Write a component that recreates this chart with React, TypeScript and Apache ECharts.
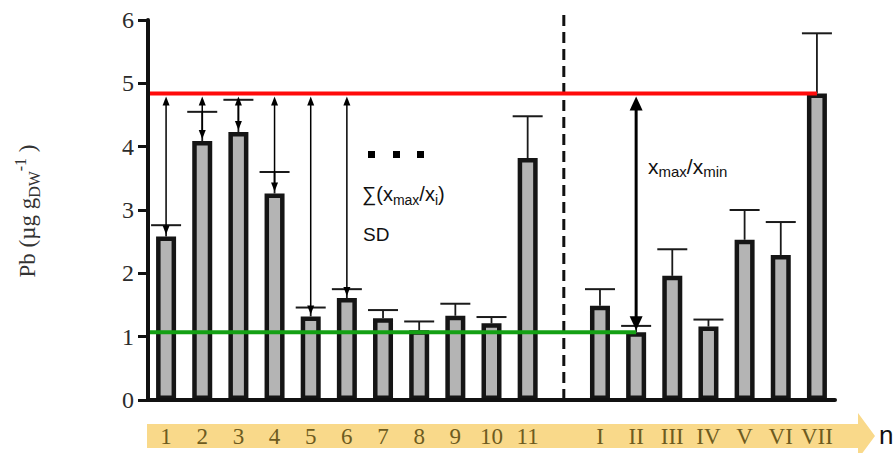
import React, { useEffect, useRef } from "react";
import * as echarts from "echarts";

const categories = ["1", "2", "3", "4", "5", "6", "7", "8", "9", "10", "11", "", "I", "II", "III", "IV", "V", "VI", "VII"];
const means: (number | null)[] = [2.58, 4.09, 4.23, 3.26, 1.32, 1.61, 1.29, 1.1, 1.33, 1.21, 3.82, null, 1.49, 1.07, 1.96, 1.16, 2.53, 2.29, 4.84];
const errorTops: (number | null)[] = [2.76, 4.55, 4.74, 3.6, 1.46, 1.75, 1.42, 1.24, 1.52, 1.31, 4.48, null, 1.75, 1.17, 2.38, 1.27, 3.0, 2.81, 5.79];
const yTickValues = [0, 1, 2, 3, 4, 5, 6];
const maxLevel = 4.84;
const minLevel = 1.07;
const maxCategory = 18;
const minCategory = 13;
const dividerCategory = 11;
const thinArrowCategories = [0, 1, 2, 3, 4, 5];

const SERIF = "Liberation Serif";
const SANS = "Liberation Sans";

export default function App() {
  const ref = useRef<HTMLDivElement>(null);

  useEffect(() => {
    document.body.style.margin = "0";
    const chart = echarts.init(ref.current as HTMLDivElement, null, { renderer: "svg" });

    const errorData = categories
      .map((_, i) => (means[i] == null ? null : [i, means[i], errorTops[i]]))
      .filter((d) => d !== null);

    const arrowData = thinArrowCategories.map((i) => [i, maxLevel, means[i] as number, 0]);
    arrowData.push([minCategory, maxLevel, means[minCategory] as number, 1]);

    const head = (x: number, y: number, dir: number, w: number, h: number) => ({
      type: "polygon",
      shape: { points: [[x, y], [x - w / 2, y - dir * h], [x + w / 2, y - dir * h]] },
      style: { fill: "#000" },
    });

    const levelLine = (endCat: number, level: number, color: string) => ({
      type: "custom",
      z: 5,
      data: [[endCat, level]],
      renderItem: (params: any, api: any) => {
        const p = api.coord([api.value(0), api.value(1)]);
        const x0 = params.coordSys.x;
        return {
          type: "line",
          shape: { x1: x0, y1: p[1], x2: p[0], y2: p[1] },
          style: { stroke: color, lineWidth: 4 },
        };
      },
    });

    const option: any = {
      animation: false,
      backgroundColor: "#ffffff",
      grid: { left: 148, right: 61, top: 20, bottom: 53, containLabel: false },
      xAxis: {
        type: "category",
        data: categories,
        z: 10,
        axisLine: { lineStyle: { color: "#111", width: 4 } },
        axisTick: { alignWithLabel: true, interval: 0, length: 11, lineStyle: { color: "#111", width: 3 } },
        axisLabel: { interval: 0, fontFamily: SERIF, fontSize: 23, color: "#6d5b20", margin: 25 },
        splitLine: { show: false },
      },
      yAxis: {
        type: "value",
        min: yTickValues[0],
        max: yTickValues[yTickValues.length - 1],
        interval: 1,
        z: 10,
        axisLine: { show: true, lineStyle: { color: "#111", width: 4 } },
        axisTick: { show: true, length: 10, lineStyle: { color: "#111", width: 3 } },
        axisLabel: { fontFamily: SERIF, fontSize: 24, color: "#2b2b2b", margin: 14 },
        splitLine: { show: false },
      },
      graphic: [
        {
          type: "polygon",
          z: -1,
          shape: { points: [[147, 424], [858, 424], [858, 413], [875, 436], [858, 459], [858, 448], [147, 448]] },
          style: { fill: "#f9d98a" },
        },
        {
          type: "text",
          x: 879,
          y: 435,
          z: 100,
          style: { text: "n", fontFamily: SANS, fontSize: 26, fill: "#111", textVerticalAlign: "middle" },
        },
        {
          type: "text",
          x: 27,
          y: 211,
          rotation: Math.PI / 2,
          z: 100,
          style: {
            text: "{a|Pb (µg g}{b|DW}{c|-1}{a| )}",
            textAlign: "center",
            textVerticalAlign: "middle",
            fill: "#333",
            rich: {
              a: { fontFamily: SERIF, fontSize: 23, lineHeight: 30, fill: "#333" },
              b: { fontFamily: SERIF, fontSize: 16, lineHeight: 16, verticalAlign: "bottom", fill: "#333" },
              c: { fontFamily: SERIF, fontSize: 16, lineHeight: 16, verticalAlign: "top", fill: "#333" },
            },
          },
        },
        { type: "rect", z: 100, shape: { x: 368, y: 151, width: 7, height: 7 }, style: { fill: "#000" } },
        { type: "rect", z: 100, shape: { x: 393, y: 151, width: 7, height: 7 }, style: { fill: "#000" } },
        { type: "rect", z: 100, shape: { x: 417, y: 151, width: 7, height: 7 }, style: { fill: "#000" } },
        {
          type: "text",
          x: 362,
          y: 194,
          z: 100,
          style: {
            text: "{n|∑(x}{s|max}{n|/x}{s|i}{n|)}",
            textVerticalAlign: "middle",
            rich: {
              n: { fontFamily: SANS, fontSize: 20, lineHeight: 26, fill: "#111" },
              s: { fontFamily: SANS, fontSize: 14, lineHeight: 14, verticalAlign: "bottom", fill: "#111" },
            },
          },
        },
        {
          type: "text",
          x: 363,
          y: 234,
          z: 100,
          style: { text: "SD", fontFamily: SANS, fontSize: 19, fill: "#111", textVerticalAlign: "middle" },
        },
        {
          type: "text",
          x: 648,
          y: 166,
          z: 100,
          style: {
            text: "{n|x}{s|max}{n|/x}{s|min}",
            textVerticalAlign: "middle",
            rich: {
              n: { fontFamily: SANS, fontSize: 21, lineHeight: 26, fill: "#111" },
              s: { fontFamily: SANS, fontSize: 15, lineHeight: 15, verticalAlign: "bottom", fill: "#111" },
            },
          },
        },
      ],
      series: [
        {
          type: "bar",
          z: 2,
          data: means,
          barWidth: 20,
          itemStyle: { color: "#b4b4b4", borderColor: "#151515", borderWidth: 4.5 },
        },
        {
          type: "custom",
          z: 3,
          data: errorData,
          renderItem: (params: any, api: any) => {
            const x = api.value(0);
            const p0 = api.coord([x, api.value(1)]);
            const p1 = api.coord([x, api.value(2)]);
            const half = 15;
            return {
              type: "group",
              children: [
                { type: "line", shape: { x1: p0[0], y1: p0[1], x2: p1[0], y2: p1[1] }, style: { stroke: "#1a1a1a", lineWidth: 1.8 } },
                { type: "line", shape: { x1: p1[0] - half, y1: p1[1], x2: p1[0] + half, y2: p1[1] }, style: { stroke: "#1a1a1a", lineWidth: 2 } },
              ],
            };
          },
        },
        {
          type: "custom",
          z: 4,
          data: [[dividerCategory]],
          renderItem: (params: any, api: any) => {
            const p = api.coord([api.value(0), 0]);
            const cs = params.coordSys;
            return {
              type: "line",
              shape: { x1: p[0], y1: cs.y - 5, x2: p[0], y2: cs.y + cs.height },
              style: { stroke: "#111", lineWidth: 3, lineDash: [11, 6] },
            };
          },
        },
        levelLine(maxCategory, maxLevel, "#ff0a0a"),
        levelLine(minCategory, minLevel, "#14a014"),
        {
          type: "custom",
          z: 6,
          data: arrowData,
          renderItem: (params: any, api: any) => {
            const x = api.value(0);
            const pt = api.coord([x, api.value(1)]);
            const pb = api.coord([x, api.value(2)]);
            const thick = api.value(3) === 1;
            const lw = thick ? 3 : 1.5;
            const w = thick ? 13 : 7;
            const h = thick ? 14 : 9;
            const yTop = pt[1] + 3;
            const yBot = pb[1] - 2;
            return {
              type: "group",
              children: [
                { type: "line", shape: { x1: pt[0], y1: yTop + h - 1, x2: pt[0], y2: yBot - h + 1 }, style: { stroke: "#000", lineWidth: lw } },
                head(pt[0], yTop, -1, w, h),
                head(pt[0], yBot, 1, w, h),
              ],
            };
          },
        },
      ],
    };

    chart.setOption(option);
    return () => chart.dispose();
  }, []);

  return (
    <div
      ref={ref}
      style={{ width: 896, height: 453, position: "absolute", left: 0, top: 0, background: "#fff" }}
    />
  );
}
